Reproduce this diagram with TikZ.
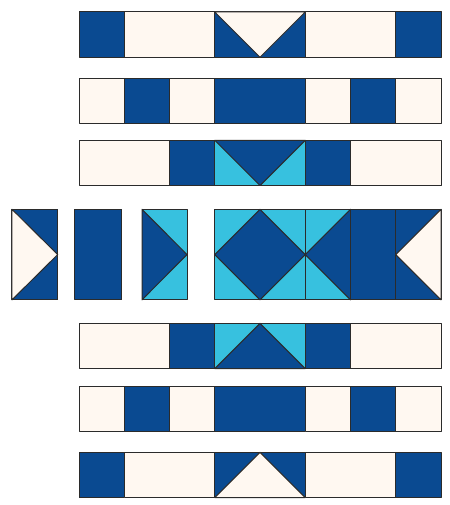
\documentclass[tikz,border=0pt]{standalone}
\definecolor{navy}{HTML}{0A4A91}
\definecolor{sky}{HTML}{37C1DF}
\definecolor{creme}{HTML}{FFF8F1}
\definecolor{seam}{HTML}{2B2B2B}

\begin{document}
\begin{tikzpicture}[x=22.625pt,y=-22.625pt,
	patch/.style={draw=seam,line width=0.5pt,line join=round},
	nv/.style={patch,fill=navy},
	cr/.style={patch,fill=creme},
	sk/.style={patch,fill=sky}]
	\useasboundingbox (0,0) rectangle (9.923,11.16);
	% loose pieces left of the middle row
	\draw[nv] (0.265,4.626) rectangle (1.275,6.626);
	\draw[cr] (0.265,4.626) -- (1.275,5.626) -- (0.265,6.626) -- cycle;
	\draw[nv] (1.657,4.626) rectangle (2.69,6.626);
	\draw[sk] (3.138,4.626) rectangle (4.133,6.626);
	\draw[nv] (3.138,4.626) -- (4.133,5.626) -- (3.138,6.626) -- cycle;
	\begin{scope}[shift={(1.746,0)}]
	% rows 1 and 7
	\foreach \t in {0.265,9.996}
		\foreach \a/\b/\s in {0/1/nv,1/3/cr,3/5/nv,5/7/cr,7/8/nv}
			\draw[\s] (\a,\t) rectangle (\b,\t+1);
	\draw[cr] (3,0.265) -- (4,1.265) -- (5,0.265) -- cycle;
	\draw[cr] (3,10.996) -- (4,9.996) -- (5,10.996) -- cycle;
	% rows 2 and 6
	\foreach \t in {1.735,8.537}
		\foreach \a/\b/\s in {0/1/cr,1/2/nv,2/3/cr,3/5/nv,5/6/cr,6/7/nv,7/8/cr}
			\draw[\s] (\a,\t) rectangle (\b,\t+1);
	% rows 3 and 5
	\foreach \t in {3.10,7.145}
		\foreach \a/\b/\s in {0/2/cr,2/3/nv,3/5/sk,5/6/nv,6/8/cr}
			\draw[\s] (\a,\t) rectangle (\b,\t+1);
	\draw[nv] (3,3.10) -- (4,4.10) -- (5,3.10) -- cycle;
	\draw[nv] (3,8.145) -- (4,7.145) -- (5,8.145) -- cycle;
	% middle row
	\draw[sk] (3,4.626) rectangle (5,6.626);
	\draw[nv] (4,4.626) -- (5,5.626) -- (4,6.626) -- (3,5.626) -- cycle;
	\draw[sk] (5,4.626) rectangle (6,6.626);
	\draw[nv] (6,4.626) -- (5,5.626) -- (6,6.626) -- cycle;
	\draw[nv] (6,4.626) rectangle (7,6.626);
	\draw[nv] (7,4.626) rectangle (8,6.626);
	\draw[cr] (8,4.626) -- (7,5.626) -- (8,6.626) -- cycle;
	\end{scope}
\end{tikzpicture}
\end{document}
